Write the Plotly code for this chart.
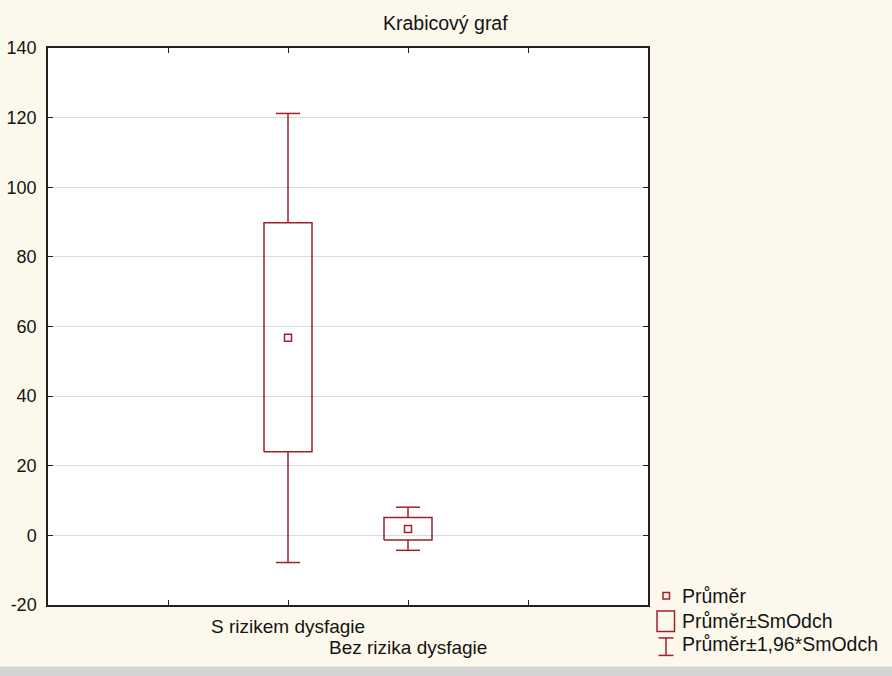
import plotly.graph_objects as go

# ---- data ----
categories = ["S rizikem dysfagie", "Bez rizika dysfagie"]
cat_pos = [2, 3]
mean_vals = [56.8, 1.8]
box_low = [24.0, -1.3]      # mean - SD
box_high = [89.8, 5.1]      # mean + SD
whisk_low = [-7.8, -4.3]    # mean - 1.96*SD
whisk_high = [121.2, 8.1]   # mean + 1.96*SD
legend_labels = ["Průměr", "Průměr±SmOdch", "Průměr±1,96*SmOdch"]
y_ticks = [-20, 0, 20, 40, 60, 80, 100, 120, 140]
y_tick_text = ["-20", "0", "20", "40", "60", "80", "100", "120", "140"]

RED = "#A3202A"
TXT = "#141414"
FONT = "Liberation Sans, Arial, sans-serif"
BOX_HW = 0.2
CAP_HW = 0.1

# plot area pixels
L, R, T, B = 48, 648, 47.5, 605.5
W, H = R - L, B - T

def px(xp):
    return (xp - L) / W

def py(yp):
    return (B - yp) / H

fig = go.Figure()

for i, xc in enumerate(cat_pos):
    # box
    fig.add_trace(go.Scatter(
        x=[xc - BOX_HW, xc + BOX_HW, xc + BOX_HW, xc - BOX_HW, xc - BOX_HW],
        y=[box_low[i], box_low[i], box_high[i], box_high[i], box_low[i]],
        mode="lines", line=dict(color=RED, width=1.5), showlegend=False, hoverinfo="skip"))
    # whiskers
    fig.add_trace(go.Scatter(
        x=[xc, xc, None, xc, xc, None,
           xc - CAP_HW, xc + CAP_HW, None, xc - CAP_HW, xc + CAP_HW],
        y=[box_high[i], whisk_high[i], None, box_low[i], whisk_low[i], None,
           whisk_high[i], whisk_high[i], None, whisk_low[i], whisk_low[i]],
        mode="lines", line=dict(color=RED, width=1.5), showlegend=False, hoverinfo="skip"))

# means
fig.add_trace(go.Scatter(
    x=cat_pos, y=mean_vals, mode="markers",
    marker=dict(symbol="square-open", size=7, color=RED, line=dict(width=1.5, color=RED)),
    showlegend=False))

shapes = []
annotations = []

# category labels (staggered)
label_y = [627, 648]
for i, c in enumerate(categories):
    annotations.append(dict(x=cat_pos[i], xref="x", y=py(label_y[i]), yref="paper",
                            text=c, showarrow=False, xanchor="center", yanchor="middle",
                            font=dict(family=FONT, size=19, color=TXT)))

# title
annotations.append(dict(x=px(445), xref="paper", y=py(22), yref="paper",
                        text="Krabicový graf", showarrow=False, xanchor="center",
                        yanchor="middle", font=dict(family=FONT, size=19.5, color=TXT)))

# manual legend
leg_text_x = px(680)
leg_y = [596, 621.5, 645]
for lab, yy in zip(legend_labels, leg_y):
    annotations.append(dict(x=leg_text_x, xref="paper", y=py(yy), yref="paper",
                            text=lab, showarrow=False, xanchor="left", yanchor="middle",
                            font=dict(family=FONT, size=19.5, color=TXT)))
# small square
shapes.append(dict(type="rect", xref="paper", yref="paper",
                   x0=px(663), x1=px(669.5), y0=py(599.5), y1=py(593),
                   line=dict(color=RED, width=1.5)))
# box icon
shapes.append(dict(type="rect", xref="paper", yref="paper",
                   x0=px(657), x1=px(674.5), y0=py(632), y1=py(611.5),
                   line=dict(color=RED, width=1.5)))
# whisker icon
shapes.append(dict(type="line", xref="paper", yref="paper",
                   x0=px(666), x1=px(666), y0=py(638.5), y1=py(656),
                   line=dict(color=RED, width=1.5)))
shapes.append(dict(type="line", xref="paper", yref="paper",
                   x0=px(658.5), x1=px(673.5), y0=py(638.5), y1=py(638.5),
                   line=dict(color=RED, width=1.5)))
shapes.append(dict(type="line", xref="paper", yref="paper",
                   x0=px(658.5), x1=px(673.5), y0=py(656), y1=py(656),
                   line=dict(color=RED, width=1.5)))

# bottom toolbar strip of the screenshot
shapes.append(dict(type="rect", xref="paper", yref="paper",
                   x0=px(-10), x1=px(900), y0=py(680), y1=py(667),
                   fillcolor="#D4D4D4", line=dict(width=0), layer="below"))

fig.update_layout(
    width=892, height=676,
    autosize=False,
    margin=dict(l=L, r=892 - R, t=T, b=676 - B, pad=0, autoexpand=False),
    paper_bgcolor="#FDF8EC",
    plot_bgcolor="white",
    showlegend=False,
    shapes=shapes,
    annotations=annotations,
    font=dict(family=FONT, size=18, color=TXT),
    xaxis=dict(range=[0, 5], tickvals=[1, 2, 3, 4], ticktext=["", "", "", ""],
               ticks="inside", ticklen=5, tickcolor="#222", tickwidth=1,
               showline=True, linecolor="#222", linewidth=1.5, mirror="ticks",
               showgrid=False, zeroline=False, fixedrange=True, automargin=False),
    yaxis=dict(range=[-20, 140], tickvals=y_ticks, ticktext=y_tick_text,
               ticks="inside", ticklen=5,
               tickcolor="#222", tickwidth=1,
               showline=True, linecolor="#222", linewidth=1.5, mirror="ticks",
               showgrid=True, gridcolor="#DCDCDC", gridwidth=1, zeroline=False,
               ticklabelstandoff=6, tickfont=dict(family=FONT, size=18, color=TXT),
               fixedrange=True, automargin=False),
)

fig.write_html("out.html", config={"displayModeBar": False},
               post_script="document.body.style.margin='0';document.body.style.padding='0';document.body.style.overflow='hidden';")
